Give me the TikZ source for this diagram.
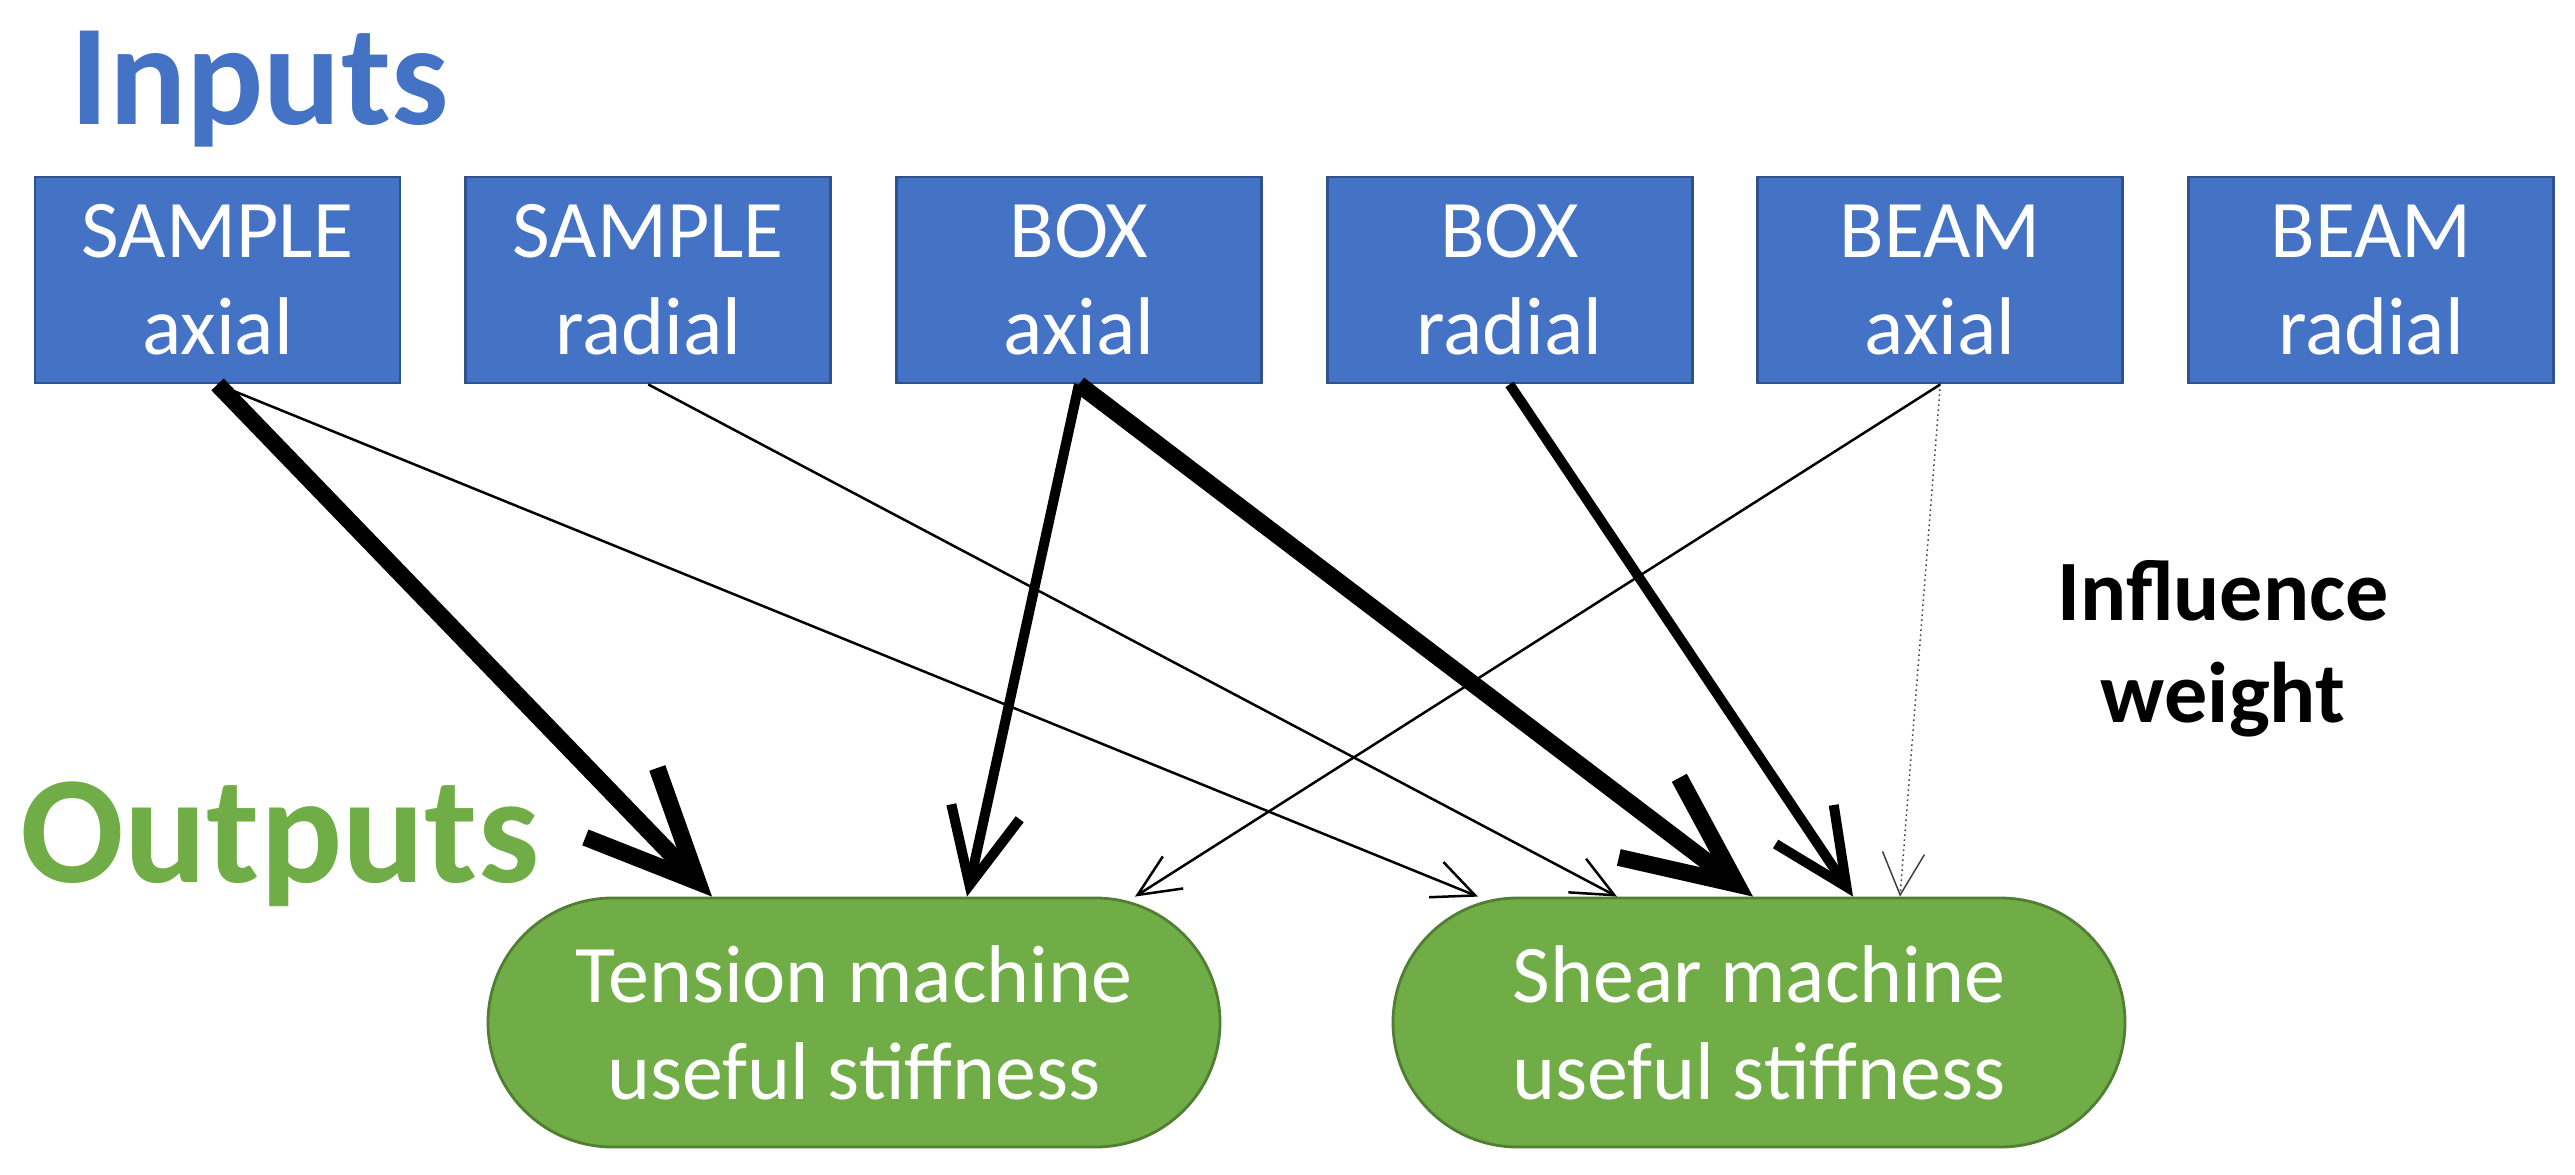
\documentclass[tikz,border=0pt]{standalone}
\usepackage{fontspec}
\setmainfont{Carlito}
\usetikzlibrary{arrows.meta,shapes.misc}
\definecolor{inblue}{HTML}{4472C4}
\definecolor{inblueline}{HTML}{2F528F}
\definecolor{outgreen}{HTML}{70AD47}
\definecolor{outgreenline}{HTML}{507E32}
\tikzset{
  inbox/.style={draw=inblueline, line width=0.8pt, fill=inblue, text=white, inner sep=0pt,
    minimum width=3.65cm, minimum height=2.06cm, align=center, font=\fontsize{23.3}{27.6}\selectfont},
  outbox/.style={rounded rectangle, draw=outgreenline, line width=0.8pt, fill=outgreen, text=white, inner sep=0pt,
    minimum width=7.32cm, minimum height=2.49cm, align=center, font=\fontsize{23.3}{27.6}\selectfont},
  titletext/.style={inner sep=0pt, font=\fontsize{41}{49}\selectfont\bfseries},
  heavyarrow/.style={line width=0.17cm, -{Straight Barb[length=1.1cm,width=1cm]}},
  midarrow/.style={line width=0.1cm, -{Straight Barb[length=0.75cm,width=0.7cm]}},
  thinarrow/.style={line width=0.025cm, -{Straight Barb[length=0.42cm,width=0.38cm]}},
  faintarrow/.style={line width=0.015cm, black!75, densely dotted, -{Straight Barb[length=0.42cm,width=0.42cm,sep=0pt]}}
}
\begin{document}
\begin{tikzpicture}
\useasboundingbox (0,0) rectangle (25.75,11.74);
%titles
\node[titletext, text=inblue, anchor=base west] (inputs) at (0.70,10.49) {Inputs};
\node[titletext, font=\fontsize{43.7}{52}\selectfont\bfseries, text=outgreen, anchor=base east] (outputs) at (5.40,2.92) {Outputs};
\node[font=\fontsize{24.5}{29}\selectfont\bfseries, align=center, inner sep=0pt] (weight) at (22.23,5.25) {Influence\\weight};
%inputs
\node[inbox] (sampleax) at (2.175,8.94) {SAMPLE\\axial};
\node[inbox] (samplerad) at (6.482,8.94) {SAMPLE\\radial};
\node[inbox] (boxax) at (10.789,8.94) {BOX\\axial};
\node[inbox] (boxrad) at (15.096,8.94) {BOX\\radial};
\node[inbox] (beamax) at (19.403,8.94) {BEAM\\axial};
\node[inbox] (beamrad) at (23.71,8.94) {BEAM\\radial};
%outputs
\node[outbox] (tension) at (8.54,1.515) {Tension machine\\useful stiffness};
\node[outbox] (shear) at (17.59,1.515) {Shear machine\\useful stiffness};
%influences
\draw[heavyarrow] (sampleax.south) -- ([xshift=-1.42cm]tension.north);
\draw[thinarrow] (sampleax.south) -- ([xshift=-2.81cm]shear.north);
\draw[thinarrow] (samplerad.south) -- ([xshift=-1.42cm]shear.north);
\draw[midarrow] (boxax.south) -- ([xshift=1.13cm]tension.north);
\draw[heavyarrow] (boxax.south) -- ([xshift=-0.06cm]shear.north);
\draw[midarrow] (boxrad.south) -- ([xshift=0.94cm]shear.north);
\draw[thinarrow] (beamax.south) -- ([xshift=2.81cm]tension.north);
\draw[faintarrow] (beamax.south) -- ([xshift=1.41cm]shear.north);
\end{tikzpicture}
\end{document}
